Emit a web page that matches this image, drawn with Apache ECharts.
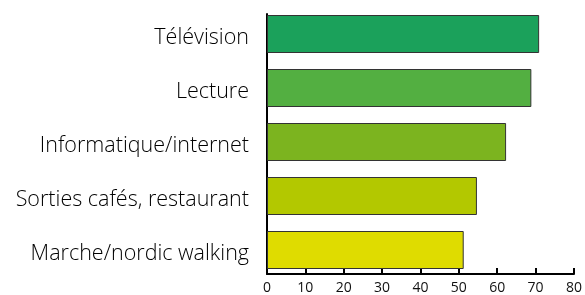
<!DOCTYPE html>
<html>
<head>
<meta charset="utf-8">
<script src="https://cdn.jsdelivr.net/npm/echarts@6/dist/echarts.min.js"></script>
<style>html,body{margin:0;padding:0;background:#fff;}#c{width:585px;height:295px;}</style>
</head>
<body>
<div id="c"></div>
<script>
var categories = ['Télévision', 'Lecture', 'Informatique/internet', 'Sorties cafés, restaurant', 'Marche/nordic walking'];
var values = [70, 68, 61.5, 54, 50.6];
var barColors = ['#1ba15b', '#53af41', '#7cb41f', '#b3c800', '#dfdc00'];
var xTicks = [0, 10, 20, 30, 40, 50, 60, 70, 80];

var chart = echarts.init(document.getElementById('c'));
chart.setOption({
  animation: false,
  backgroundColor: '#fff',
  grid: [
    { left: 267, right: 7, top: 7, bottom: 18 },
    { left: 267, right: 7, top: 14, bottom: 18 }
  ],
  xAxis: [
    { gridIndex: 0, type: 'value', min: 0, max: 80, show: false },
    { gridIndex: 1, type: 'value', min: 0, max: 80, interval: 10,
      axisLine: { show: true, lineStyle: { color: '#000', width: 2 } },
      axisTick: { show: true, inside: true, length: 6, lineStyle: { color: '#000', width: 2 } },
      axisLabel: { color: '#111', fontSize: 14, fontFamily: 'Open Sans', margin: 7,
        formatter: function (v) { return xTicks.indexOf(v) >= 0 ? String(v) : ''; } },
      splitLine: { show: false } }
  ],
  yAxis: [
    { gridIndex: 0, type: 'category', data: categories, inverse: true,
      axisLine: { show: false }, axisTick: { show: false },
      axisLabel: { margin: 18,
        formatter: function (v) { return '{a|' + v + '}'; },
        rich: { a: { color: '#000', fontSize: 21.5, fontFamily: 'Open Sans', fontWeight: 300,
          padding: [7, 0, 0, 0] } } } },
    { gridIndex: 1, type: 'value', min: 0, max: 1,
      axisLine: { show: true, lineStyle: { color: '#000', width: 2 } },
      axisTick: { show: false }, axisLabel: { show: false }, splitLine: { show: false } }
  ],
  series: [{
    type: 'bar',
    xAxisIndex: 0, yAxisIndex: 0,
    data: values.map(function (v, i) {
      return { value: v, itemStyle: { color: barColors[i] } };
    }),
    barWidth: 38,
    itemStyle: { borderColor: '#333', borderWidth: 1 }
  }]
});
</script>
</body>
</html>
